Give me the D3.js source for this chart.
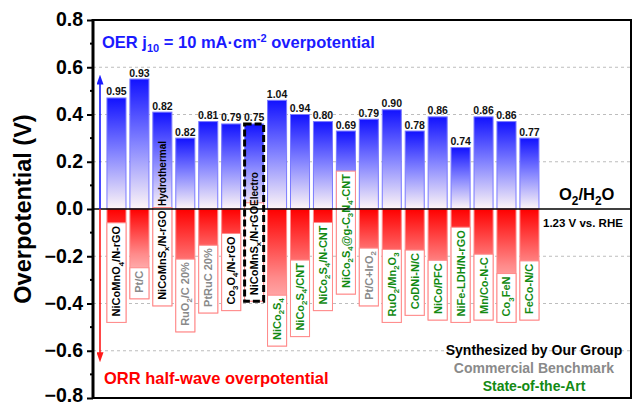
<!DOCTYPE html>
<html><head><meta charset="utf-8">
<script src="https://cdn.jsdelivr.net/npm/d3@7"></script>
<style>html,body{margin:0;padding:0;background:#fff;}svg{display:block;font-family:"Liberation Sans",Arial,sans-serif;font-weight:bold;}</style>
</head><body>
<svg id="c" width="632" height="406"></svg>
<script>
// ---- data ----
const categories = ["NiCoMnO{4}/N-rGO","Pt/C","NiCoMnS{x}/N-rGO","RuO{2}/C 20%","PtRuC 20%","Co{3}O{4}/N-rGO","NiCoMnS{x}/N-rGO","NiCo{2}S{4}","NiCo{2}S{4}/CNT","NiCo{2}S{4}/N-CNT","NiCo{2}S{4}@g-C{3}N{4}-CNT","Pt/C+IrO{2}","RuO{2}/Mn{2}O{3}","CoDNi-N/C","NiCo/PFC","NiFe-LDH/N-rGO","Mn/Co-N-C","Co{3}FeN","FeCo-N/C"];
const groups = ["ours","comm","ours","comm","comm","ours","ours","sota","sota","sota","sota","comm","sota","sota","sota","sota","sota","sota","sota"];
const oerValues = [0.47,0.55,0.41,0.30,0.37,0.36,0.36,0.46,0.40,0.37,0.33,0.38,0.42,0.33,0.39,0.26,0.39,0.37,0.30];
const orrValues = [0.48,0.38,0.41,0.52,0.44,0.43,0.39,0.58,0.54,0.43,0.36,0.41,0.48,0.45,0.47,0.48,0.47,0.48,0.47];
const gapLabels = ["0.95","0.93","0.82","0.82","0.81","0.79","0.75","1.04","0.94","0.80","0.69","0.79","0.90","0.78","0.86","0.74","0.86","0.86","0.77"];
const yTicks = [0.8,0.6,0.4,0.2,0.0,-0.2,-0.4,-0.6,-0.8];
const gridValues = [0.6,0.4,0.2,-0.2,-0.4,-0.6];
const legendItems = [["Synthesized by Our Group","ours"],["Commercial Benchmark","comm"],["State-of-the-Art","sota"]];
const groupColor = {ours:"#000000", comm:"#8a8a8a", sota:"#138a13"};

// ---- layout ----
const svg = d3.select("#c");
const L = 93, R = 631, T = 20, B = 398;
const y = d3.scaleLinear().domain([-0.8,0.8]).range([B,T]);
const x = d3.scaleBand().domain(d3.range(categories.length)).range([105.0,540.9]).paddingInner(0.17).paddingOuter(0.085);
const bw = x.bandwidth();

const defs = svg.append("defs");
const gB = defs.append("linearGradient").attr("id","gBlue").attr("x1",0).attr("y1",0).attr("x2",0).attr("y2",1);
gB.append("stop").attr("offset","0%").attr("stop-color","#1212ff");
gB.append("stop").attr("offset","50%").attr("stop-color","#8585ff");
gB.append("stop").attr("offset","100%").attr("stop-color","#fff6f6");
const gR = defs.append("linearGradient").attr("id","gRed").attr("x1",0).attr("y1",0).attr("x2",0).attr("y2",1);
gR.append("stop").attr("offset","0%").attr("stop-color","#ff0000");
gR.append("stop").attr("offset","50%").attr("stop-color","#ff8a8a");
gR.append("stop").attr("offset","100%").attr("stop-color","#fff0f0");

// grid
svg.append("g").selectAll("line").data(gridValues).join("line")
  .attr("x1",L).attr("x2",R).attr("y1",d=>y(d)).attr("y2",d=>y(d))
  .attr("stroke","#bdbdbd").attr("stroke-width",1).attr("stroke-dasharray","3,3");

// OER bars
svg.append("g").selectAll("rect").data(oerValues).join("rect")
  .attr("x",(d,i)=>x(i)).attr("width",bw)
  .attr("y",d=>y(d)).attr("height",d=>y(0)-y(d))
  .attr("fill","url(#gBlue)").attr("stroke","#7a7aff").attr("stroke-width",1);
// ORR bars
svg.append("g").selectAll("rect").data(orrValues).join("rect")
  .attr("x",(d,i)=>x(i)).attr("width",bw)
  .attr("y",y(0)).attr("height",d=>y(-d)-y(0))
  .attr("fill","url(#gRed)").attr("stroke","#ff8a8a").attr("stroke-width",1);

function richText(sel, str, fs){
  const parts = str.split(/(\{[^}]*\})/).filter(s=>s.length);
  let shifted = false;
  parts.forEach(p=>{
    if(p[0]==="{"){
      sel.append("tspan").attr("font-size",fs*0.72).attr("dy",fs*0.28).text(p.slice(1,-1));
      shifted = true;
    } else {
      const t = sel.append("tspan").text(p);
      if(shifted){ t.attr("dy",-fs*0.28); shifted=false; }
    }
  });
}

// category labels with white boxes
const labFS = 11;
const labG = svg.append("g");
categories.forEach((c,i)=>{
  const cx = x(i)+bw/2, yb = y(-orrValues[i]);
  const g = labG.append("g");
  const box = g.append("rect");
  const t = g.append("text").attr("transform",`translate(${cx+4},${yb-6}) rotate(-90)`)
    .attr("font-size",labFS).attr("fill",groupColor[groups[i]]);
  richText(t,c,labFS);
  const len = t.node().getComputedTextLength();
  box.attr("x",x(i)).attr("width",bw).attr("y",yb-len-9).attr("height",len+9)
    .attr("fill","#ffffff").attr("stroke","#ff8a8a").attr("stroke-width",1);
});

// value labels
svg.append("g").selectAll("text").data(gapLabels).join("text")
  .attr("x",(d,i)=>x(i)+bw/2).attr("y",(d,i)=>y(oerValues[i])-2.5)
  .attr("text-anchor","middle").attr("font-size",10.5).attr("fill","#111").text(d=>d);

// synthesis annotations
[["Hydrothermal",2],["Electro",6]].forEach(([s,i])=>{
  svg.append("text").attr("transform",`translate(${x(i)+bw/2+3.5},${y(0)-3}) rotate(-90)`)
    .attr("font-size",10).attr("fill","#000").text(s);
});

// dashed box around electro sample
svg.append("rect").attr("x",x(6)).attr("width",bw)
  .attr("y",y(oerValues[6])).attr("height",y(-orrValues[6])-y(oerValues[6]))
  .attr("fill","none").attr("stroke","#000").attr("stroke-width",3).attr("stroke-dasharray","7,3");

// zero line
svg.append("line").attr("x1",L).attr("x2",R).attr("y1",y(0)).attr("y2",y(0)).attr("stroke","#000").attr("stroke-width",1.5);

// arrows
function marker(id,col){
  defs.append("marker").attr("id",id).attr("viewBox","0 0 10 10").attr("refX",2).attr("refY",5)
    .attr("markerWidth",10).attr("markerHeight",7).attr("orient","auto").attr("markerUnits","userSpaceOnUse")
    .attr("preserveAspectRatio","none")
    .append("path").attr("d","M0,0L10,5L0,10z").attr("fill",col);
}
marker("aB","#1a1aff"); marker("aR","#ff1a1a");
svg.append("line").attr("x1",100).attr("x2",100).attr("y1",y(0)).attr("y2",y(0.535))
  .attr("stroke","#1a1aff").attr("stroke-width",1.6).attr("marker-end","url(#aB)");
svg.append("line").attr("x1",100).attr("x2",100).attr("y1",y(0)).attr("y2",y(-0.615))
  .attr("stroke","#ff1a1a").attr("stroke-width",1.6).attr("marker-end","url(#aR)");

// axis
const axis = d3.axisLeft(y).tickValues(yTicks).tickFormat(d3.format(".1f")).tickSize(6).tickPadding(4);
const ag = svg.append("g").attr("transform",`translate(${L},0)`).call(axis);
ag.select(".domain").remove();
ag.selectAll(".tick line").attr("stroke","#000").attr("stroke-width",2);
ag.selectAll(".tick text").attr("font-size",19.5).attr("font-weight","bold").attr("fill","#000")
  .attr("font-family","'Liberation Sans',Arial,sans-serif").attr("dy",d=>d===-0.8?"0.17em":"0.3em");
const minor = d3.range(-0.7,0.8,0.2);
svg.append("g").selectAll("line").data(minor).join("line")
  .attr("x1",L-3).attr("x2",L).attr("y1",d=>y(d)).attr("y2",d=>y(d)).attr("stroke","#000").attr("stroke-width",2);

// frame
svg.append("rect").attr("x",L).attr("y",T).attr("width",R-L).attr("height",B-T)
  .attr("fill","none").attr("stroke","#000").attr("stroke-width",2);
svg.append("line").attr("x1",L).attr("x2",L).attr("y1",T-1).attr("y2",B+1).attr("stroke","#000").attr("stroke-width",3);

// y title
svg.append("text").attr("transform",`translate(31,${(T+B)/2}) rotate(-90)`).attr("text-anchor","middle")
  .attr("font-size",23.5).attr("fill","#000").text("Overpotential (V)");

// titles
const ot = svg.append("text").attr("x",102).attr("y",48).attr("font-size",16.5).attr("fill","#1a1aff");
ot.append("tspan").text("OER j");
ot.append("tspan").attr("font-size",11).attr("dy",4).text("10");
ot.append("tspan").attr("dy",-4).text(" = 10 mA·cm");
ot.append("tspan").attr("font-size",11).attr("dy",-6).text("-2");
ot.append("tspan").attr("dy",6).text(" overpotential");

svg.append("text").attr("x",104).attr("y",384).attr("font-size",16.5).attr("fill","#ff0000").text("ORR half-wave overpotential");

const o2 = svg.append("text").attr("x",559).attr("y",200).attr("font-size",16.5).attr("fill","#000");
richText(o2,"O{2}/H{2}O",16.5);
svg.append("text").attr("x",543).attr("y",227).attr("font-size",11.5).attr("fill","#000").text("1.23 V vs. RHE");

svg.append("g").selectAll("text").data(legendItems).join("text")
  .attr("x",534).attr("y",(d,i)=>355+i*18).attr("text-anchor","middle")
  .attr("font-size",14).attr("fill",d=>groupColor[d[1]]).text(d=>d[0]);
</script>
</body></html>
